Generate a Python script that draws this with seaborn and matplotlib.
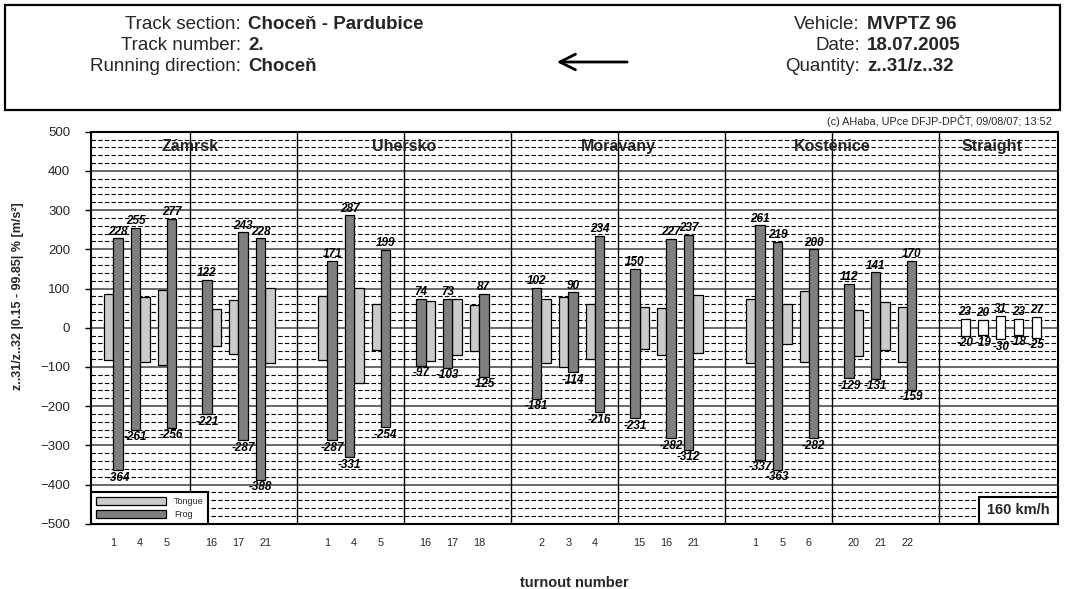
import numpy as np
import pandas as pd
import matplotlib
matplotlib.use("Agg")
import matplotlib.pyplot as plt
import seaborn as sns
from matplotlib.patches import Rectangle, Patch

# ---------------- data ----------------
stations = ["Zámrsk", "Uhersko", "Moravany", "Kostěnice"]
turnouts = [[1, 4, 5, 16, 17, 21],
            [1, 4, 5, 16, 17, 18],
            [2, 3, 4, 15, 16, 21],
            [1, 5, 6, 20, 21, 22]]
tongue_max = [[85, 79, 95, 47, 70, 102],
              [82, 102, 61, 69, 72, 58],
              [74, 78, 60, 53, 50, 83],
              [72, 60, 93, 44, 65, 52]]
tongue_min = [[-82, -87, -96, -46, -67, -91],
              [-82, -142, -56, -86, -70, -59],
              [-90, -100, -79, -54, -70, -65],
              [-90, -42, -88, -73, -58, -87]]
frog_max = [[228, 255, 277, 122, 243, 228],
            [171, 287, 199, 74, 73, 87],
            [102, 90, 234, 150, 227, 237],
            [261, 219, 200, 112, 141, 170]]
frog_min = [[-364, -261, -256, -221, -287, -388],
            [-287, -331, -254, -97, -103, -125],
            [-181, -114, -216, -231, -282, -312],
            [-337, -363, -282, -129, -131, -159]]
straight_max = [23, 20, 31, 23, 27]
straight_min = [-20, -19, -30, -18, -25]
straight_title = "Straight"
speed_text = "160 km/h"
legend_labels = ["Tongue", "Frog"]
y_ticks = list(range(-500, 501, 100))

header_left = [("Track section:", "Choceň - Pardubice"),
               ("Track number:", "2."),
               ("Running direction:", "Choceň")]
header_right = [("Vehicle:", "MVPTZ 96"),
                ("Date:", "18.07.2005"),
                ("Quantity:", "z..31/z..32")]
copyright_text = "(c) AHaba, UPce DFJP-DPČT, 09/08/07; 13:52"
y_label = "z..31/z..32 |0.15 - 99.85| % [m/s²]"
x_label = "turnout number"

# layout: which side the tongue bar sits on (-1 left, +1 right of frog)
tongue_side = [[-1, 1, -1, 1, -1, 1],
               [-1, 1, -1, 1, 1, -1],
               [1, -1, -1, 1, -1, 1],
               [-1, 1, -1, 1, 1, -1]]

# ---------------- style ----------------
sns.set_theme(style="white")
plt.rcParams['font.family'] = ['Liberation Sans', 'DejaVu Sans']

LIGHT = "#cbcbcb"
DARK = "#7f7f7f"
W, H = 1067, 589
fig = plt.figure(figsize=(W / 100, H / 100), dpi=100)


def fx(px):
    return px / W


def fy(py):
    return 1 - py / H


AX_L, AX_R, AX_T, AX_B = 91, 1058, 131.7, 523.7
ax = fig.add_axes([fx(AX_L), fy(AX_B), (AX_R - AX_L) / W, (AX_B - AX_T) / H])

BAR_W = 0.35
SUB_OFF = [1.14, 2.14, 3.14, 4.81, 5.81, 6.81]

rows_t, rows_f = [], []
tick_pos, tick_lab = [], []
for s in range(len(stations)):
    for j, t in enumerate(turnouts[s]):
        c = 8 * s + SUB_OFF[j]
        side = tongue_side[s][j]
        rows_t.append(dict(x=c + side * BAR_W / 2, lo=tongue_min[s][j], hi=tongue_max[s][j]))
        rows_f.append(dict(x=c - side * BAR_W / 2, lo=frog_min[s][j], hi=frog_max[s][j]))
        tick_pos.append(c)
        tick_lab.append(str(t))

STEP_S = 0.665
rows_s = [dict(x=32.98 + STEP_S * k, lo=straight_min[k], hi=straight_max[k])
          for k in range(len(straight_max))]

df_t = pd.DataFrame(rows_t)
df_f = pd.DataFrame(rows_f)
df_s = pd.DataFrame(rows_s)


def float_bars(df, color):
    df = df.sort_values("x").reset_index(drop=True)
    df["span"] = df["hi"] - df["lo"]
    xs = np.unique(df["x"].to_numpy())
    nat = np.min(np.diff(xs)) if len(xs) > 1 else 1.0
    sns.barplot(data=df, x="x", y="span", native_scale=True, orient="x",
                width=BAR_W / nat, color=color, saturation=1, errorbar=None,
                bottom=df["lo"].to_numpy(), edgecolor="black", linewidth=0.9,
                zorder=3, ax=ax)
    return df


lab_kw = dict(ha="center", fontsize=8.5, fontweight="bold", fontstyle="italic",
              textcoords="offset points", zorder=4, color="black")

float_bars(df_t, LIGHT)
dff = float_bars(df_f, DARK)
dfs = float_bars(df_s, "white")

for d in (dff, dfs):
    for _, r in d.iterrows():
        ax.annotate(f"{int(r['hi'])}", (r["x"], r["hi"]), xytext=(0, 0.5), va="bottom", **lab_kw)
        ax.annotate(f"{int(r['lo'])}", (r["x"], r["lo"]), xytext=(0, -1.0), va="top", **lab_kw)

# ---------------- axes ----------------
ax.set_xlim(0.299, 36.45)
ax.set_ylim(-500, 500)
ax.set_yticks(y_ticks)
ax.set_yticks(np.arange(-500, 501, 20), minor=True)
ax.set_axisbelow(True)
ax.grid(False)
ax.yaxis.grid(True, which="major", color="#404040", lw=1.1)
ax.yaxis.grid(True, which="minor", color="black", lw=0.8, linestyle=(0, (4, 2)))
ax.xaxis.grid(False)
ax.tick_params(axis="y", which="major", direction="out", length=4, width=1,
               color="black", pad=11, labelsize=9.5, left=True)
ax.tick_params(axis="y", which="minor", length=0)
ax.set_xticks(tick_pos, tick_lab)
ax.tick_params(axis="x", length=0, pad=10, labelsize=7.8)
for sp in ax.spines.values():
    sp.set_color("black")
    sp.set_linewidth(1.5)

for k in range(1, 9):
    ax.axvline(4 * k, color="black", lw=1.0, zorder=2)

for s, name in enumerate(stations):
    ax.text(8 * s + 4, 461, name, ha="center", va="center", fontsize=11.5,
            fontweight="bold", zorder=4)
ax.text(33.97, 461, straight_title, ha="center", va="center", fontsize=11.5,
        fontweight="bold", zorder=4)

ax.set_ylabel(y_label, fontsize=9, fontweight="bold")
ax.yaxis.set_label_coords(-0.069, 0.581)
ax.set_xlabel(x_label, fontsize=10.5, fontweight="bold")
ax.xaxis.set_label_coords(0.5, -0.133)

# legend
handles = [Patch(facecolor=LIGHT, edgecolor="black", lw=0.9),
           Patch(facecolor=DARK, edgecolor="black", lw=0.9)]
leg = ax.legend(handles, legend_labels, loc="lower left", bbox_to_anchor=(0, 0),
                borderaxespad=0, frameon=True, fancybox=False, framealpha=1,
                edgecolor="black", fontsize=6.5, handlelength=7.8, handleheight=1.0,
                labelspacing=0.45, borderpad=0.5, handletextpad=0.9)
leg.get_frame().set_linewidth(1.5)
leg.set_zorder(6)

# speed box
bx0 = (979 - AX_L) / (AX_R - AX_L)
bh = (AX_B - 497) / (AX_B - AX_T)
ax.add_patch(Rectangle((bx0, 0), 1 - bx0, bh, transform=ax.transAxes,
                       facecolor="white", edgecolor="black", lw=1.5, zorder=6,
                       clip_on=False))
ax.text(bx0 + (1 - bx0) / 2, bh / 2, speed_text, transform=ax.transAxes,
        ha="center", va="center", fontsize=10.5, fontweight="bold", zorder=7)

# ---------------- header ----------------
fig.add_artist(Rectangle((fx(5), fy(110)), 1055 / W, 105 / H, transform=fig.transFigure,
                         fill=False, edgecolor="black", lw=1.6))
for i, (lab, val) in enumerate(header_left):
    yy = fy(24.5 + 20.8 * i)
    fig.text(fx(241), yy, lab, ha="right", va="center", fontsize=13.5)
    fig.text(fx(248), yy, val, ha="left", va="center", fontsize=13.5, fontweight="bold")
for i, (lab, val) in enumerate(header_right):
    yy = fy(24.5 + 20.8 * i)
    fig.text(fx(860), yy, lab, ha="right", va="center", fontsize=13.5)
    fig.text(fx(867), yy, val, ha="left", va="center", fontsize=13.5, fontweight="bold")

ax.annotate("", xy=(fx(554), fy(62)), xytext=(fx(630), fy(62)), xycoords="figure fraction",
            textcoords="figure fraction",
            arrowprops=dict(arrowstyle="->", lw=2, color="black", mutation_scale=28))
fig.text(fx(1052), fy(121), copyright_text, ha="right", va="center", fontsize=7.8)

fig.savefig("out.png", dpi=100, facecolor="white")
